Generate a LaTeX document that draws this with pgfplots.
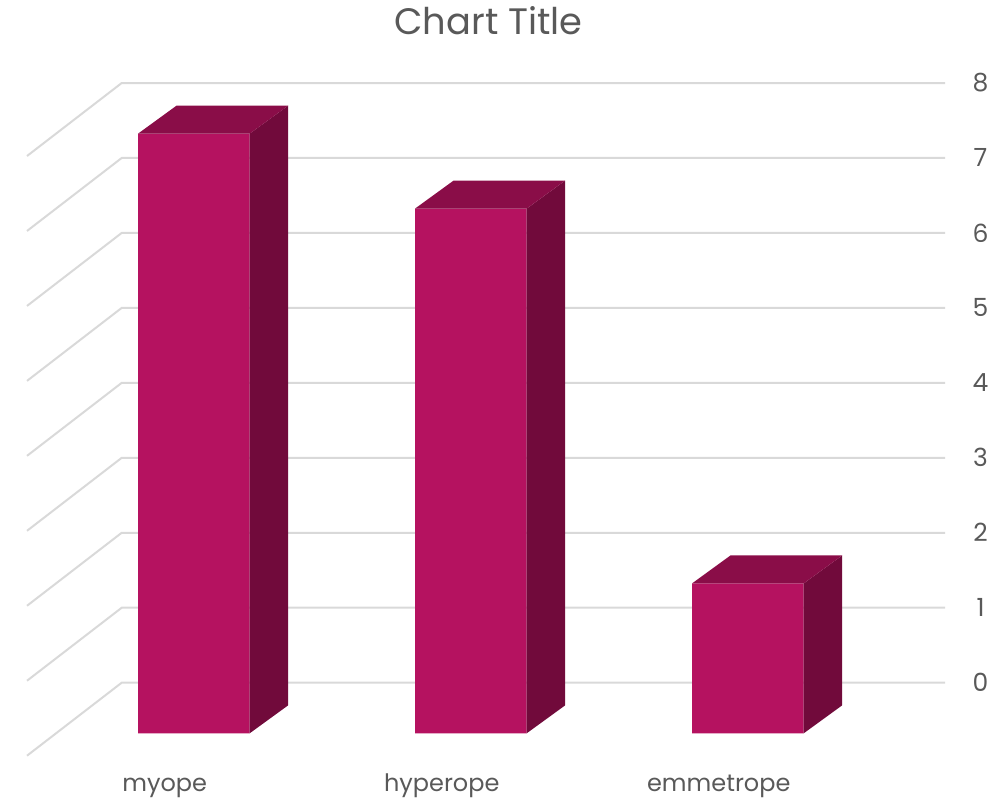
\documentclass[border=0pt]{standalone}
\usepackage{fontspec}
\setmainfont{Poppins}
\usepackage{pgfplots}
\usepackage{pgfplotstable}
\pgfplotsset{compat=1.18}
\definecolor{front}{RGB}{181,18,96}
\definecolor{topc}{RGB}{138,13,72}
\definecolor{side}{RGB}{113,10,59}
\definecolor{gridc}{RGB}{217,217,217}
\definecolor{txt}{RGB}{89,89,89}

\pgfplotstableread{
x y
0 8
1 7
2 2
}\data

\pgfplotstableread{
x y
-0.6025 -0.299
-0.2606 0.675
2.7116 0.675
}\wall

\pgfplotstableread{
dx fv dy
-0.2015 1 0
0.2015 1 0
0.3405 1 0.3735
-0.0625 1 0.3735
}\topface

\pgfplotstableread{
dx fv dy
0.2015 0 0
0.2015 1 0
0.3405 1 0.3735
0.3405 0 0.3735
}\sideface

\newcommand\drawbar[2]{%
\addplot[fill=side, draw=none] table[x expr=#1+\thisrow{dx}, y expr=#2*\thisrow{fv}+\thisrow{dy}]{\sideface};
\addplot[fill=topc, draw=none] table[x expr=#1+\thisrow{dx}, y expr=#2*\thisrow{fv}+\thisrow{dy}]{\topface};
}

\begin{document}
\begin{tikzpicture}
\begin{axis}[
 scale only axis, width=497pt, height=399.5pt,
 xmin=-0.7, xmax=2.8884, ymin=-0.8765, ymax=9.7825,
 axis line style={draw=none},
 tick style={draw=none},
 xtick={-0.1053,0.8947,1.8947}, xticklabels={myope,hyperope,emmetrope},
 ytick={0.675,1.675,2.675,3.675,4.675,5.675,6.675,7.675,8.675},
 yticklabels={0,1,2,3,4,5,6,7,8},
 yticklabel pos=right,
 ticklabel style={text=txt},
 xticklabel style={font=\fontsize{12}{14}\selectfont, anchor=base, yshift=3.6pt},
 yticklabel style={font=\fontsize{12.5}{15}\selectfont, anchor=center, xshift=-6.75pt},
 title={Chart Title},
 title style={font=\fontsize{18.4}{22}\selectfont, text=txt, at={(0.4915,1)}, anchor=base, yshift=-23.5pt},
]
\pgfplotsinvokeforeach{0,1,2,3,4,5,6,7,8}{
 \addplot[gridc, line width=1pt] table[x=x, y expr=\thisrow{y}+#1]{\wall};
}
\addplot[ybar, bar width=0.403, bar shift=0pt, fill=front, draw=none] table[x=x, y=y]{\data};
\drawbar{0}{8}
\drawbar{1}{7}
\drawbar{2}{2}
\end{axis}
\pgfresetboundingbox
\path (current axis.south west) rectangle (current axis.north east);
\end{tikzpicture}
\end{document}
